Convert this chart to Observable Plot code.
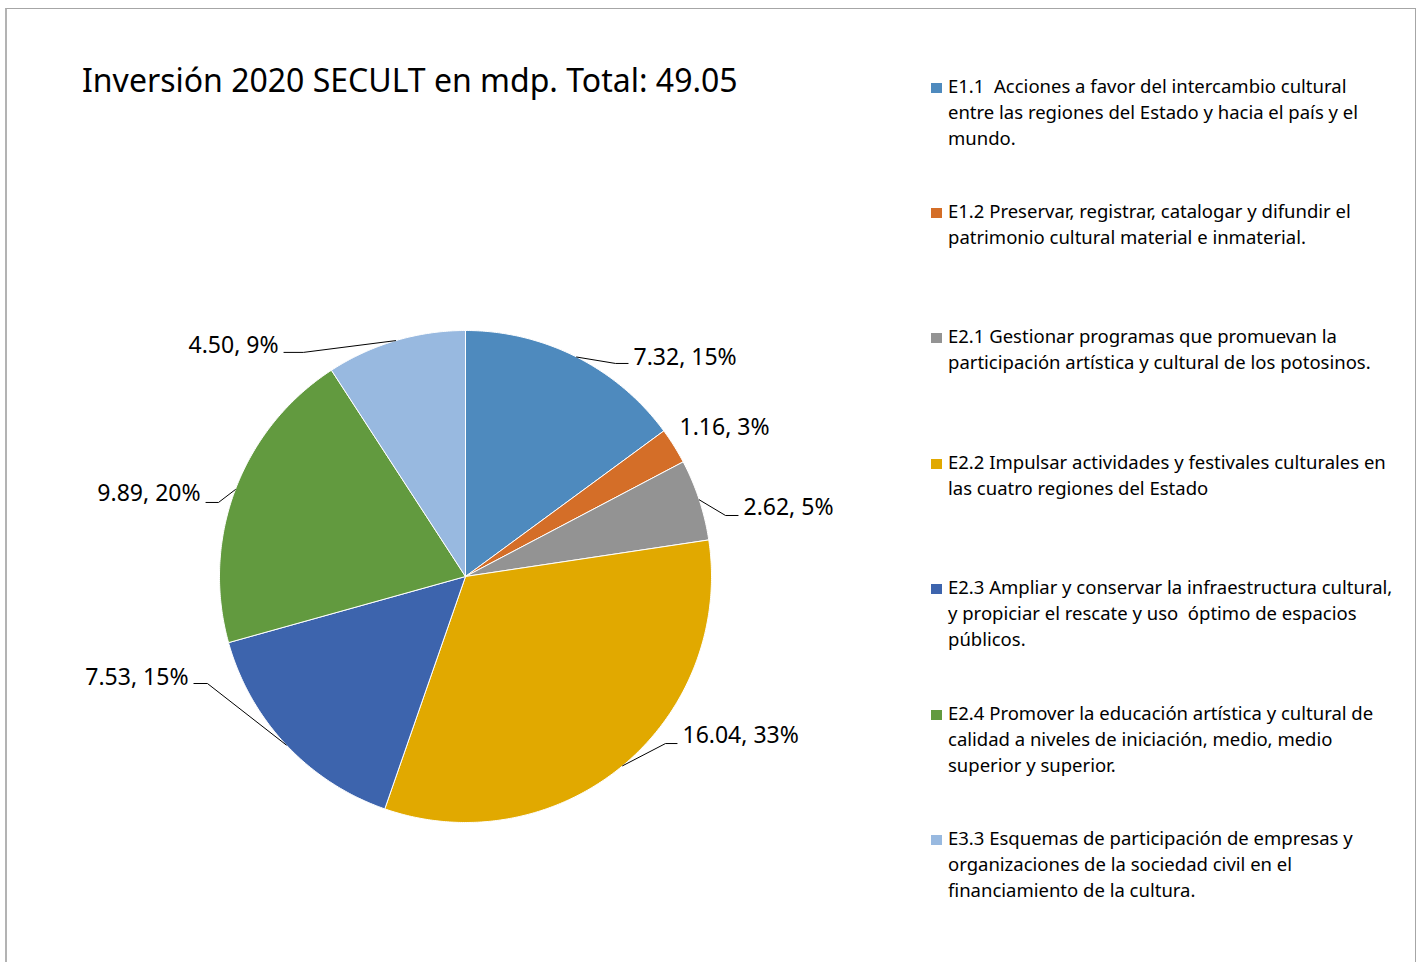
<!DOCTYPE html>
<html><head><meta charset="utf-8">
<script src="https://cdn.jsdelivr.net/npm/d3@7"></script>
<script src="https://cdn.jsdelivr.net/npm/@observablehq/plot@0.6"></script>
<style>
html,body{margin:0;padding:0;background:#fff;width:1420px;height:962px;overflow:hidden;font-family:"Noto Sans",sans-serif;color:#000;}
#frame{position:absolute;left:5px;top:8px;width:1411px;height:1000px;border:1px solid #a6a6a6;border-left:2px solid #b3b3b3;box-sizing:border-box;}
#title{position:absolute;left:82px;top:63.5px;font-size:32px;line-height:32px;white-space:nowrap;}
#chart{position:absolute;left:71px;top:281px;}
#legend{position:absolute;left:931px;top:0;width:480px;}
.item{position:absolute;left:0;}
.sw{position:absolute;left:0;width:11px;height:10px;}
.txt{position:absolute;left:17px;top:0;font-size:18.5px;line-height:26px;white-space:pre;}
</style></head>
<body>
<div id="frame"></div>
<div id="title"></div>
<div id="chart"></div>
<div id="legend"></div>
<script>
// ---- data ----
const codes = ["E1.1","E1.2","E2.1","E2.2","E2.3","E2.4","E3.3"];
const values = [7.32, 1.16, 2.62, 16.04, 7.53, 9.89, 4.50];
const percents = [15, 3, 5, 33, 15, 20, 9];
const colors = ["#4e8abe","#d46e28","#939393","#e1a900","#3d64ad","#629a3f","#98b9e0"];
const legendLabels = [
  "E1.1  Acciones a favor del intercambio cultural\nentre las regiones del Estado y hacia el país y el\nmundo.",
  "E1.2 Preservar, registrar, catalogar y difundir el\npatrimonio cultural material e inmaterial.",
  "E2.1 Gestionar programas que promuevan la\nparticipación artística y cultural de los potosinos.",
  "E2.2 Impulsar actividades y festivales culturales en\nlas cuatro regiones del Estado",
  "E2.3 Ampliar y conservar la infraestructura cultural,\ny propiciar el rescate y uso  óptimo de espacios\npúblicos.",
  "E2.4 Promover la educación artística y cultural de\ncalidad a niveles de iniciación, medio, medio\nsuperior y superior.",
  "E3.3 Esquemas de participación de empresas y\norganizaciones de la sociedad civil en el\nfinanciamiento de la cultura."
];
const titleText = "Inversión 2020 SECULT en mdp. Total: 49.05";

// ---- label layout (in units of the pie radius) ----
const labelX = [0.683, 0.870, 1.130, 0.882, -1.126, -1.077, -0.760];
const labelY = [0.890, 0.606, 0.280, -0.646, -0.411, 0.337, 0.939];
const elbowX = [0.610, null, 1.057, 0.813, -1.049, -1.004, -0.659];
const elbowY = [0.866, null, 0.248, -0.679, -0.435, 0.301, 0.911];

document.getElementById("title").textContent = titleText;

const total = d3.sum(values);
let acc = 0;
const slices = values.map((v, i) => {
  const a0 = acc / total * 2 * Math.PI; acc += v;
  const a1 = acc / total * 2 * Math.PI;
  return {i, code: codes[i], value: v, a0, a1, mid: (a0 + a1) / 2};
});

const polyPts = [];
slices.forEach(s => {
  polyPts.push({code: s.code, x: 0, y: 0});
  const n = Math.max(2, Math.ceil((s.a1 - s.a0) / (Math.PI / 360)));
  for (let k = 0; k <= n; k++) {
    const a = s.a0 + (s.a1 - s.a0) * k / n;
    polyPts.push({code: s.code, x: Math.sin(a), y: Math.cos(a)});
  }
  polyPts.push({code: s.code, x: 0, y: 0});
});

const leaderPts = [];
slices.forEach(s => {
  const i = s.i;
  if (elbowX[i] == null) return;
  const side = labelX[i] >= 0 ? 1 : -1;
  leaderPts.push({code: s.code, x: Math.sin(s.mid), y: Math.cos(s.mid)});
  leaderPts.push({code: s.code, x: elbowX[i], y: elbowY[i]});
  leaderPts.push({code: s.code, x: labelX[i] - side * 0.022, y: elbowY[i]});
});

const labels = slices.map(s => ({
  code: s.code, x: labelX[s.i], y: labelY[s.i],
  text: `${s.value.toFixed(2)}, ${percents[s.i]}%`
}));

const R = 246, W = 788, H = 590;
const chart = Plot.plot({
  width: W, height: H, margin: 0,
  x: {domain: [-W / 2 / R, W / 2 / R], axis: null},
  y: {domain: [-H / 2 / R, H / 2 / R], axis: null},
  color: {domain: codes, range: colors},
  style: {fontFamily: "'Noto Sans', sans-serif", overflow: "visible", background: "transparent"},
  marks: [
    Plot.line(polyPts, {x: "x", y: "y", z: "code", fill: "code", stroke: "white", strokeWidth: 1, strokeLinejoin: "round"}),
    Plot.line(leaderPts, {x: "x", y: "y", z: "code", stroke: "black", strokeWidth: 1}),
    Plot.text(labels.filter(d => d.x >= 0), {x: "x", y: "y", text: "text", textAnchor: "start", fontSize: 23, fill: "black"}),
    Plot.text(labels.filter(d => d.x < 0), {x: "x", y: "y", text: "text", textAnchor: "end", fontSize: 23, fill: "black"})
  ]
});
document.getElementById("chart").appendChild(chart);

const legend = document.getElementById("legend");
const firstBaseline = 92.7, spacing = 125.4, baseOff = 20.2;
codes.forEach((c, i) => {
  const base = firstBaseline + spacing * i;
  const item = document.createElement("div");
  item.className = "item";
  item.style.top = (base - baseOff) + "px";
  const sw = document.createElement("div");
  sw.className = "sw";
  sw.style.background = colors[i];
  sw.style.top = (baseOff - 10) + "px";
  const tx = document.createElement("div");
  tx.className = "txt";
  tx.textContent = legendLabels[i];
  item.appendChild(sw); item.appendChild(tx);
  legend.appendChild(item);
});
</script>
</body></html>
